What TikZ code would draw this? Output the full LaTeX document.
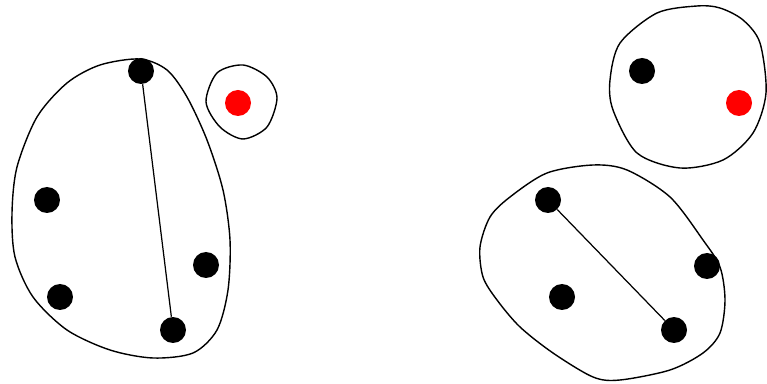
\documentclass[tikz,border=0pt]{standalone}
\begin{document}
\begin{tikzpicture}[
    x=0.02cm, y=-0.02cm,
    dot node/.style={circle, fill=black, inner sep=0pt, minimum size=0.52cm},
    red node/.style={dot node, fill=red},
    blob line/.style={draw=black, line width=0.8pt},
    edge line/.style={draw=black, line width=0.7pt}
]
\useasboundingbox (0,0) rectangle (767,384);

%================LEFT GRAPH================
\draw[blob line] plot[smooth cycle, tension=0.5] coordinates {
    (140,59) (167,70) (187,97) (207,140) (223,190) (230,240)
    (228,290) (217,330) (193,353) (153,358) (110,350) (67,330)
    (33,297) (15,257) (12,213) (17,167) (37,117) (67,83) (100,65)};
\draw[blob line] plot[smooth cycle, tension=0.5] coordinates {
    (243,65) (267,77) (277,98) (267,127) (243,139) (220,127)
    (206,102) (217,73)};

\node[dot node] (L1) at (141,71) {};
\node[dot node] (L2) at (47,200) {};
\node[dot node] (L3) at (60,297) {};
\node[dot node] (L4) at (173,330) {};
\node[dot node] (L5) at (206,265) {};
\node[red node] (L6) at (238,103) {};
\draw[edge line] (L1) -- (L4);

%================RIGHT GRAPH================
\draw[blob line] plot[smooth cycle, tension=0.5] coordinates {
    (697,6) (720,8) (743,20) (760,43) (766,93) (753,133) (723,160)
    (680,168) (637,153) (613,110) (610,80) (620,43) (657,13)};
\draw[blob line] plot[smooth cycle, tension=0.5] coordinates {
    (593,165) (627,170) (670,197) (703,240) (720,267) (725,300)
    (720,333) (703,353) (670,370) (620,380) (593,377) (553,353)
    (520,327) (497,300) (483,277) (480,247) (490,217) (510,197) (547,173)};

\node[dot node] (R1) at (642,71) {};
\node[red node] (R2) at (739,103) {};
\node[dot node] (R3) at (548,200) {};
\node[dot node] (R4) at (562,297) {};
\node[dot node] (R5) at (674,330) {};
\node[dot node] (R6) at (707,266) {};
\draw[edge line] (R3) -- (R5);

\end{tikzpicture}
\end{document}
